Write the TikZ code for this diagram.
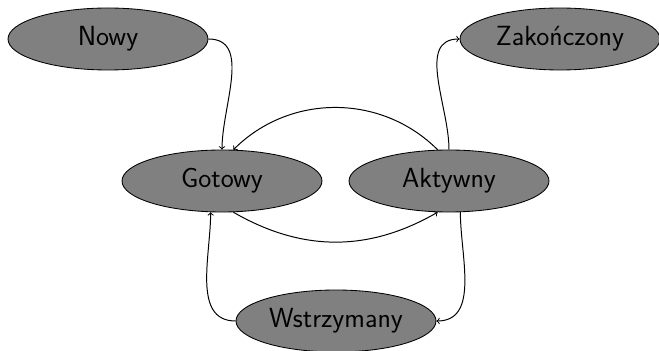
\documentclass[tikz,border=0pt]{standalone}
\usetikzlibrary{shapes.geometric}
\begin{document}
\begin{tikzpicture}[
    stan/.style={ellipse, draw, line width=0.6pt, fill=gray, minimum width=5cm, minimum height=1.55cm, inner sep=0pt, font=\fontsize{19.7}{23}\sffamily},
    przejscie/.style={->, line width=0.7pt}
]
    \useasboundingbox (0,0) rectangle (16.475,8.775);
    % Stany procesu
    \node[stan] (nowy) at (2.7,7.8) {Nowy};
    \node[stan] (zakonczony) at (14.0,7.8) {Zakończony};
    \node[stan] (gotowy) at (5.55,4.25) {Gotowy};
    \node[stan] (aktywny) at (11.225,4.25) {Aktywny};
    \node[stan] (wstrzymany) at (8.4,0.75) {Wstrzymany};

    % Przejscia
    \draw[przejscie] (nowy.east) to[out=0, in=90] (gotowy.north);
    \draw[przejscie] (gotowy.290) to[bend right=30] (aktywny.250);
    \draw[przejscie] (aktywny.110) to[bend right=45] (gotowy.70);
    \draw[przejscie] (aktywny.north) to[out=90, in=180] (zakonczony.west);
    \draw[przejscie] (aktywny.290) to[out=-90, in=0] (wstrzymany.east);
    \draw[przejscie] (wstrzymany.west) to[out=180, in=-90] (gotowy.250);
\end{tikzpicture}
\end{document}
